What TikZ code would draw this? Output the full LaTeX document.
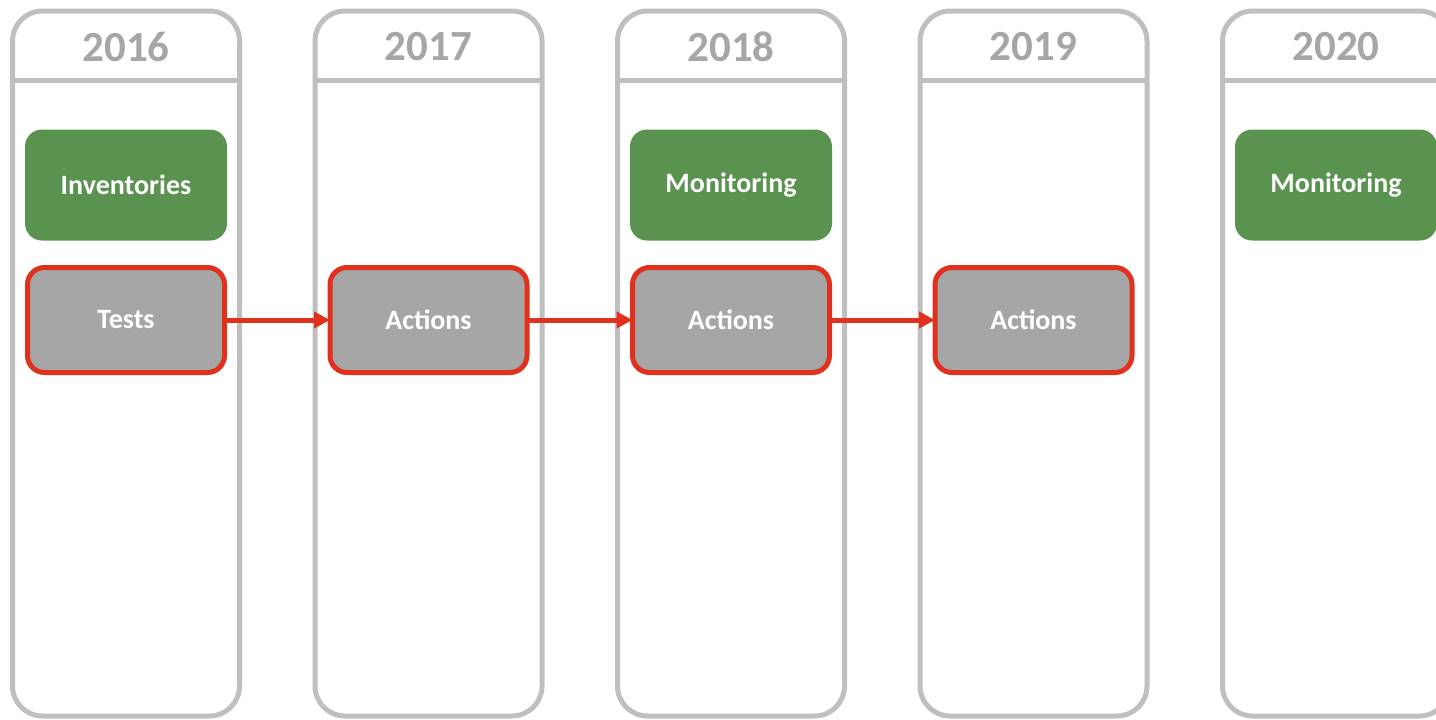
\documentclass[tikz,border=0pt]{standalone}
\usepackage{fontspec}
\setmainfont{Carlito}
\usetikzlibrary{arrows.meta}
\definecolor{framegray}{HTML}{BFBFBF}
\definecolor{yeargray}{HTML}{A6A6A6}
\definecolor{boxgreen}{HTML}{5A9350}
\definecolor{boxgray}{HTML}{A6A6A6}
\definecolor{flowred}{HTML}{E0301E}
\tikzset{
  yearcol/.style={draw=framegray, line width=2.5pt, rounded corners=15pt, outer sep=0pt,
    minimum width=113.5pt, minimum height=352.5pt},
  yearlabel/.style={text=yeargray, font=\fontsize{21.5}{26}\selectfont\bfseries},
  goalbox/.style={fill=boxgreen, rounded corners=8.5pt, minimum width=101pt, minimum height=55.5pt,
    text=white, font=\fontsize{14}{17}\selectfont\bfseries},
  workbox/.style={fill=boxgray, draw=flowred, line width=2.5pt, rounded corners=8.5pt, outer sep=0pt,
    minimum width=98.5pt, minimum height=52.5pt, text=white, font=\fontsize{14}{17}\selectfont\bfseries},
  flow/.style={draw=flowred, line width=2.5pt, -{Triangle[length=8pt,width=8pt]}}
}
\begin{document}
\begin{tikzpicture}[x=0.5pt, y=-0.5pt]
  \useasboundingbox (0,0) rectangle (1436,719);
  \clip (0,0) rectangle (1436,719);
  % year columns
  \foreach \yr [count=\i from 0] in {2016,2017,2018,2019,2020} {
    \node[yearcol] (col\yr) at (126+302.5*\i, 363.5) {};
    \draw[framegray, line width=2.5pt] (col\yr.west |- 0,80) -- (col\yr.east |- 0,80);
    \node[yearlabel] (lbl\yr) at (126+302.5*\i, 47) {\yr};
  }
  % goals
  \node[goalbox] (inv)  at (126, 185)      {Inventories};
  \node[goalbox] (mon1) at (731, 185)      {Monitoring};
  \node[goalbox] (mon2) at (1336, 185)     {Monitoring};
  % work
  \node[workbox] (tests) at (126, 320)     {Tests};
  \node[workbox] (act1)  at (428.5, 320)   {Actions};
  \node[workbox] (act2)  at (731, 320)     {Actions};
  \node[workbox] (act3)  at (1033.5, 320)  {Actions};
  \begin{scope}[flow]
    \draw (tests) -- (act1);
    \draw (act1) -- (act2);
    \draw (act2) -- (act3);
  \end{scope}
\end{tikzpicture}
\end{document}
